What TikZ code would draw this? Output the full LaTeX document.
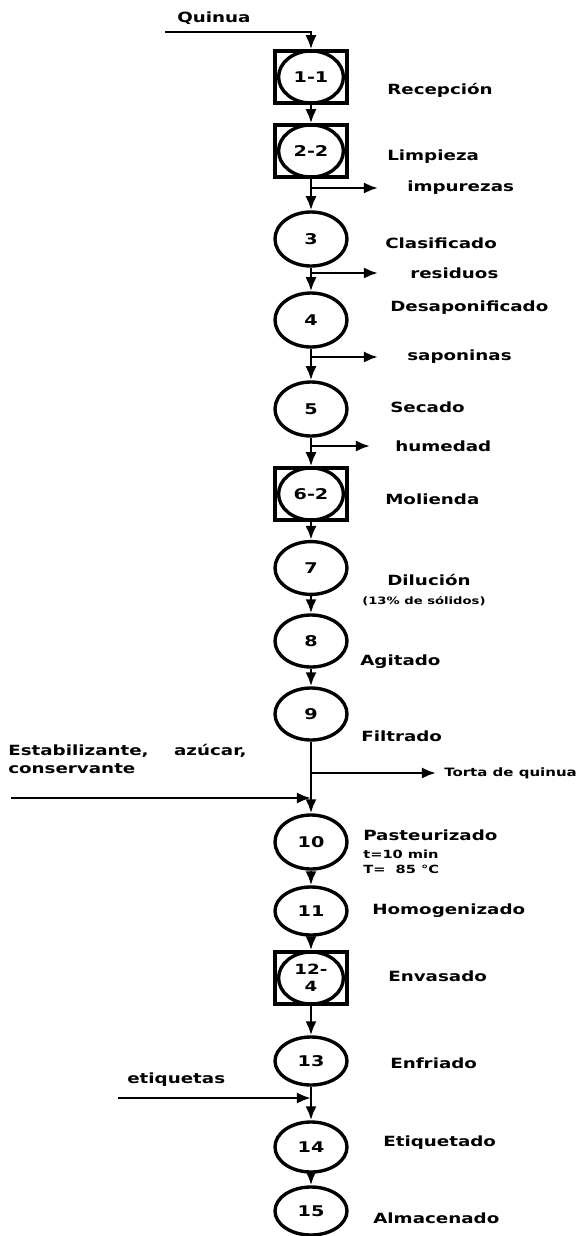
\documentclass[tikz,border=0pt]{standalone}
\usepackage{fontspec}
\usepackage{tikz}
\usetikzlibrary{shapes,arrows,arrows.meta}
\newfontfamily\lblfont{DejaVu Sans Bold}[FakeStretch=1.3]
\tikzstyle{op} = [draw, ellipse, line width=2.4pt, minimum width=1.8cm, minimum height=1.35cm, inner sep=0pt, font=\lblfont\fontsize{10.5}{11}\selectfont, align=center]
\tikzstyle{opin} = [op, minimum width=1.62cm, minimum height=1.3cm]
\tikzstyle{opbox} = [draw, rectangle, line width=2.4pt, minimum width=1.8cm, minimum height=1.3cm, inner sep=0pt]
\tikzstyle{lbl} = [anchor=west, inner sep=0pt, font=\lblfont\fontsize{10}{11}\selectfont]
\tikzstyle{small} = [anchor=west, inner sep=0pt, font=\lblfont\fontsize{7.2}{8}\selectfont]
\tikzstyle{flow} = [draw, -{Latex[length=10pt,width=8pt]}, line width=2pt]

\begin{document}
\begin{tikzpicture}[x=0.025cm, y=-0.025cm]
    \useasboundingbox (0,0) rectangle (587,1236);

    % boxed operations: box first, ellipse on top
    \node (b1) [opbox] at (311,77) {};
    \node (n1) [opin] at (311,77) {1-1};
    \node (b2) [opbox] at (311,151) {};
    \node (n2) [opin] at (311,151) {2-2};
    \node (n3) [op] at (311,239) {3};
    \node (n4) [op] at (311,320) {4};
    \node (n5) [op] at (311,409) {5};
    \node (b6) [opbox] at (311,494) {};
    \node (n6) [opin] at (311,494) {6-2};
    \node (n7) [op, minimum height=1.32cm] at (311,568) {7};
    \node (n8) [op, minimum height=1.3cm] at (311,641) {8};
    \node (n9) [op, minimum height=1.3cm] at (311,714) {9};
    \node (n10) [op] at (311,842) {10};
    \node (n11) [op, minimum height=1.2cm] at (311,911) {11};
    \node (b12) [opbox] at (311,978) {};
    \node (n12) [opin, font=\lblfont\fontsize{10}{12}\selectfont] at (311,978) {12-\\4};
    \node (n13) [op, minimum height=1.2cm] at (311,1061) {13};
    \node (n14) [op, minimum height=1.25cm] at (311,1147) {14};
    \node (n15) [op, minimum height=1.2cm] at (311,1211) {15};

    % names of the operations
    \node (l1) [lbl] at (387,90) {Recepción};
    \node (l2) [lbl] at (387,157) {Limpieza};
    \node (l3) [lbl] at (385,243) {Clasificado};
    \node (l4) [lbl] at (390,308) {Desaponificado};
    \node (l5) [lbl] at (390,407) {Secado};
    \node (l6) [lbl] at (385,499) {Molienda};
    \node (l7) [lbl] at (387,580) {Dilución};
    \node (l7b) [small] at (362,601) {(13\% de sólidos)};
    \node (l8) [lbl] at (360,662) {Agitado};
    \node (l9) [lbl] at (361,736) {Filtrado};
    \node (l10) [lbl] at (363,835) {Pasteurizado};
    \node (l10b) [lbl, font=\lblfont\fontsize{8}{9}\selectfont] at (363,854) {t=10 min};
    \node (l10c) [lbl, font=\lblfont\fontsize{8}{9}\selectfont] at (363,869) {T=\ \ 85 °C};
    \node (l11) [lbl] at (372,911) {Homogenizado};
    \node (l12) [lbl] at (388,976) {Envasado};
    \node (l13) [lbl] at (390,1063) {Enfriado};
    \node (l14) [lbl] at (383,1143) {Etiquetado};
    \node (l15) [lbl] at (373,1218) {Almacenado};

    % raw material
    \node (quinua) [lbl] at (177,18) {Quinua};
    \coordinate (q0) at (165,32);
    \path [flow] (q0) -- (q0 -| n1) -- (n1);

    % main line
    \foreach \i [evaluate=\i as \j using int(\i+1)] in {1,...,14}
    {
        \path [flow] (n\i) -- (n\j);
    }

    % outputs to the right
    \foreach \k/\y/\e in {2/188/378, 3/273/378, 4/357/378, 5/446/370, 9/773/436}
    {
        \coordinate (j\k) at (311,\y);
        \coordinate (o\k) at (\e,\y);
        \path [flow] (j\k) -- (o\k);
    }
    \node (out2) [lbl] at (407,188) {impurezas};
    \node (out3) [lbl] at (410,273) {residuos};
    \node (out4) [lbl] at (407,357) {saponinas};
    \node (out5) [lbl] at (395,446) {humedad};
    \node (out9) [lbl, font=\lblfont\fontsize{8.2}{9}\selectfont] at (444,773) {Torta de quinua};

    % inputs from the left
    \node (in9a) [lbl] at (8,751) {Estabilizante,\ \ \ \ azúcar,};
    \node (in9b) [lbl] at (8,769) {conservante};
    \coordinate (s9) at (11,798);
    \coordinate (k9) at (311,798);
    \path [flow] (s9) -- (k9);

    \node (in13) [lbl] at (127,1080) {etiquetas};
    \coordinate (s13) at (118,1098);
    \coordinate (k13) at (311,1098);
    \path [flow] (s13) -- (k13);

\end{tikzpicture}
\end{document}
